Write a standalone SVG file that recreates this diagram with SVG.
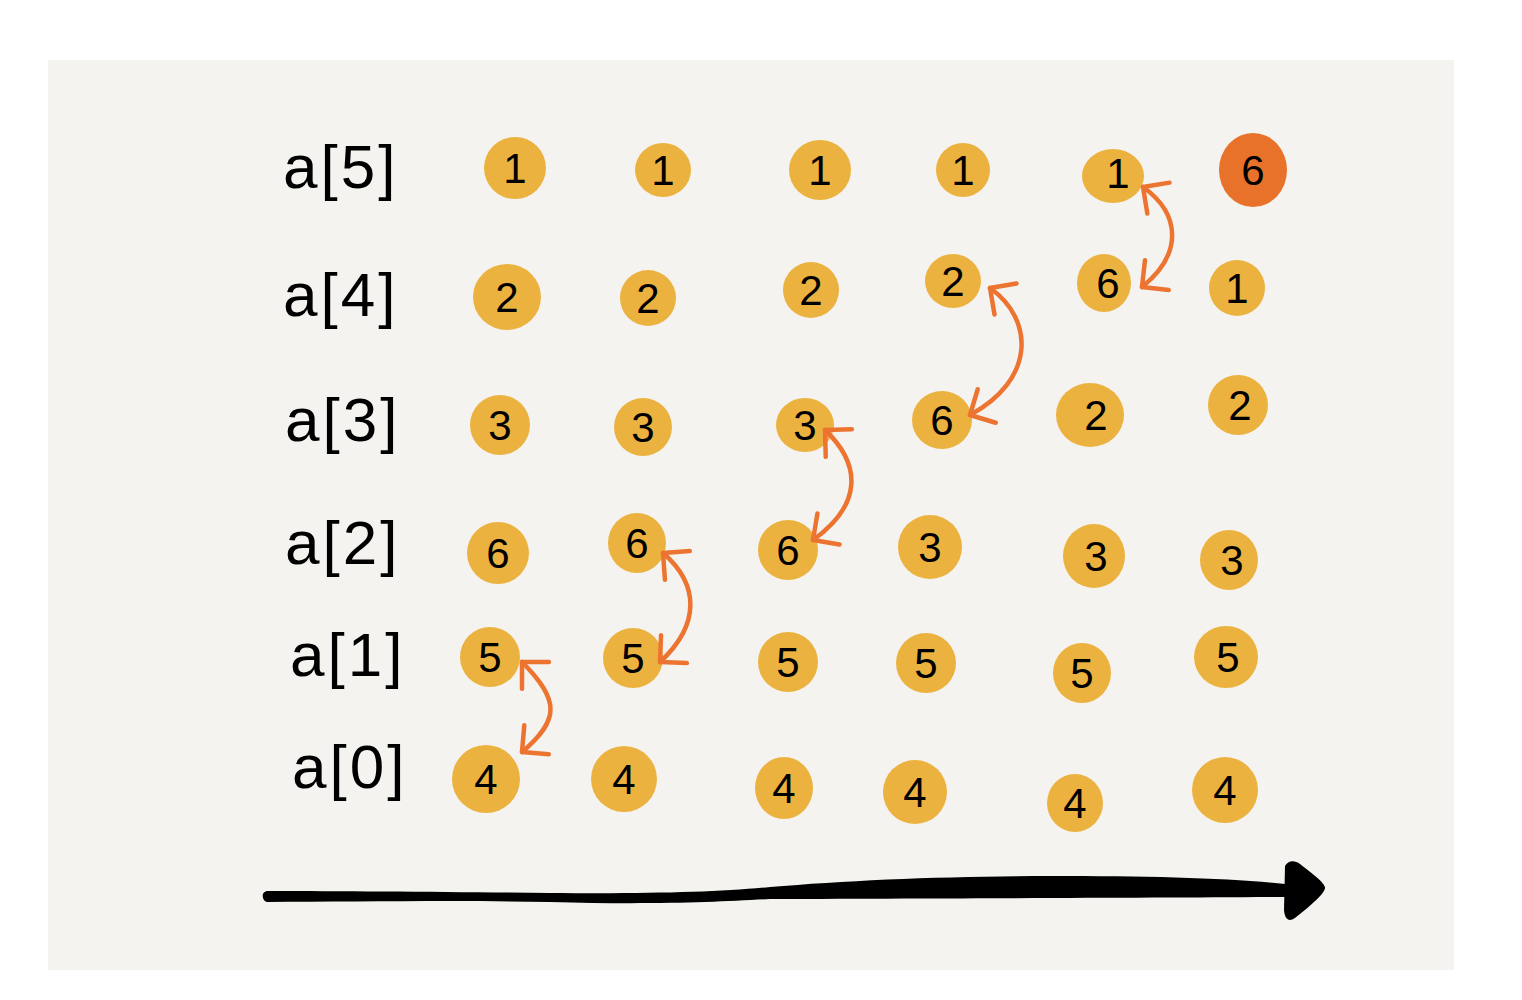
<svg xmlns="http://www.w3.org/2000/svg" width="1522" height="1000" viewBox="0 0 1522 1000">
<style>
.bg{fill:#f4f3ef}
.n{fill:#ecb23f}
.hot{fill:#e8722a}
.d{font-family:"Liberation Sans",Arial,sans-serif;font-size:42px;fill:#000;text-anchor:middle;dominant-baseline:central}
.lbl{font-family:"Liberation Sans",Arial,sans-serif;font-size:62px;fill:#000;letter-spacing:3px}
.sw{fill:none;stroke:#ec7430;stroke-width:4.5;stroke-linecap:round}
</style>
<defs>
<marker id="ah" markerUnits="userSpaceOnUse" markerWidth="50" markerHeight="50" viewBox="-25 -25 50 50" refX="0" refY="0" orient="auto-start-reverse" overflow="visible">
<path d="M-19,-19 L0,0 L-19,19" fill="none" stroke="#ec7430" stroke-width="4.5" stroke-linecap="round" stroke-linejoin="round"/>
</marker>
</defs>
<rect width="1522" height="1000" fill="#ffffff"/>
<rect class="bg" x="48" y="60" width="1406" height="910"/>

<g id="labels">
<text class="lbl" x="283" y="188">a[5]</text>
<text class="lbl" x="283" y="316">a[4]</text>
<text class="lbl" x="285" y="441">a[3]</text>
<text class="lbl" x="285" y="564">a[2]</text>
<text class="lbl" x="290" y="676">a[1]</text>
<text class="lbl" x="292" y="788">a[0]</text>
</g>

<g id="col1">
<g id="c1r5"><ellipse class="n" cx="515" cy="168" rx="31" ry="31"/><text class="d" x="515" y="168">1</text></g>
<g id="c1r4"><ellipse class="n" cx="507" cy="297" rx="34" ry="33"/><text class="d" x="507" y="297">2</text></g>
<g id="c1r3"><ellipse class="n" cx="500" cy="425" rx="30" ry="30"/><text class="d" x="500" y="425">3</text></g>
<g id="c1r2"><ellipse class="n" cx="498" cy="553" rx="31" ry="31"/><text class="d" x="498" y="553">6</text></g>
<g id="c1r1"><ellipse class="n" cx="490" cy="657" rx="30" ry="30"/><text class="d" x="490" y="657">5</text></g>
<g id="c1r0"><ellipse class="n" cx="486" cy="779" rx="34" ry="34"/><text class="d" x="486" y="779">4</text></g>
</g>
<g id="col2">
<g id="c2r5"><ellipse class="n" cx="663" cy="170" rx="28" ry="27"/><text class="d" x="663" y="170">1</text></g>
<g id="c2r4"><ellipse class="n" cx="648" cy="298" rx="28" ry="28"/><text class="d" x="648" y="298">2</text></g>
<g id="c2r3"><ellipse class="n" cx="643" cy="427" rx="29" ry="29"/><text class="d" x="643" y="427">3</text></g>
<g id="c2r2"><ellipse class="n" cx="637" cy="543" rx="29" ry="30"/><text class="d" x="637" y="543">6</text></g>
<g id="c2r1"><ellipse class="n" cx="633" cy="658" rx="30" ry="30"/><text class="d" x="633" y="658">5</text></g>
<g id="c2r0"><ellipse class="n" cx="624" cy="779" rx="33" ry="33"/><text class="d" x="624" y="779">4</text></g>
</g>
<g id="col3">
<g id="c3r5"><ellipse class="n" cx="820" cy="170" rx="31" ry="30"/><text class="d" x="820" y="170">1</text></g>
<g id="c3r4"><ellipse class="n" cx="811" cy="290" rx="28" ry="28"/><text class="d" x="811" y="290">2</text></g>
<g id="c3r3"><ellipse class="n" cx="805" cy="425" rx="29" ry="27"/><text class="d" x="805" y="425">3</text></g>
<g id="c3r2"><ellipse class="n" cx="788" cy="550" rx="30" ry="30"/><text class="d" x="788" y="550">6</text></g>
<g id="c3r1"><ellipse class="n" cx="788" cy="662" rx="30" ry="30"/><text class="d" x="788" y="662">5</text></g>
<g id="c3r0"><ellipse class="n" cx="784" cy="788" rx="29" ry="31"/><text class="d" x="784" y="788">4</text></g>
</g>
<g id="col4">
<g id="c4r5"><ellipse class="n" cx="963" cy="170" rx="27" ry="27"/><text class="d" x="963" y="170">1</text></g>
<g id="c4r4"><ellipse class="n" cx="953" cy="281" rx="28" ry="27"/><text class="d" x="953" y="281">2</text></g>
<g id="c4r3"><ellipse class="n" cx="942" cy="420" rx="30" ry="29"/><text class="d" x="942" y="420">6</text></g>
<g id="c4r2"><ellipse class="n" cx="930" cy="547" rx="32" ry="32"/><text class="d" x="930" y="547">3</text></g>
<g id="c4r1"><ellipse class="n" cx="926" cy="663" rx="30" ry="30"/><text class="d" x="926" y="663">5</text></g>
<g id="c4r0"><ellipse class="n" cx="915" cy="792" rx="32" ry="32"/><text class="d" x="915" y="792">4</text></g>
</g>
<g id="col5">
<g id="c5r5"><ellipse class="n" cx="1113" cy="176" rx="31" ry="27"/><text class="d" x="1118" y="173">1</text></g>
<g id="c5r4"><ellipse class="n" cx="1104" cy="283" rx="27" ry="29"/><text class="d" x="1108" y="283">6</text></g>
<g id="c5r3"><ellipse class="n" cx="1090" cy="415" rx="34" ry="32"/><text class="d" x="1096" y="415">2</text></g>
<g id="c5r2"><ellipse class="n" cx="1094" cy="556" rx="31" ry="32"/><text class="d" x="1096" y="556">3</text></g>
<g id="c5r1"><ellipse class="n" cx="1082" cy="673" rx="29" ry="30"/><text class="d" x="1082" y="673">5</text></g>
<g id="c5r0"><ellipse class="n" cx="1075" cy="803" rx="28" ry="29"/><text class="d" x="1075" y="803">4</text></g>
</g>
<g id="col6">
<g id="c6r5"><ellipse class="hot" cx="1253" cy="170" rx="34" ry="37"/><text class="d" x="1253" y="170">6</text></g>
<g id="c6r4"><ellipse class="n" cx="1237" cy="288" rx="28" ry="28"/><text class="d" x="1237" y="288">1</text></g>
<g id="c6r3"><ellipse class="n" cx="1238" cy="405" rx="30" ry="30"/><text class="d" x="1240" y="405">2</text></g>
<g id="c6r2"><ellipse class="n" cx="1229" cy="560" rx="29" ry="30"/><text class="d" x="1232" y="560">3</text></g>
<g id="c6r1"><ellipse class="n" cx="1226" cy="657" rx="32" ry="31"/><text class="d" x="1228" y="657">5</text></g>
<g id="c6r0"><ellipse class="n" cx="1225" cy="790" rx="33" ry="33"/><text class="d" x="1225" y="790">4</text></g>
</g>

<g id="connectors">
<path class="sw" d="M522,662 C560,700 560,720 522,752" marker-start="url(#ah)" marker-end="url(#ah)"/>
<path class="sw" d="M663,553 C700,585 700,625 660,662" marker-start="url(#ah)" marker-end="url(#ah)"/>
<path class="sw" d="M825,430 C862,465 862,505 813,540" marker-start="url(#ah)" marker-end="url(#ah)"/>
<path class="sw" d="M990,288 C1035,320 1035,380 970,415" marker-start="url(#ah)" marker-end="url(#ah)"/>
<path class="sw" d="M1143,187 C1182,215 1182,255 1142,287" marker-start="url(#ah)" marker-end="url(#ah)"/>
</g>

<g id="timeline">
<path fill="#000" d="M268,891 C350,891 450,892 550,893 C650,894 720,892 770,887 C850,880 950,876 1050,876 C1150,876 1230,878 1285,884 L1285,897 C1150,898 1000,898 770,899 C720,902 650,905 550,902 C450,900 350,902 268,902 C262,902 260,891 268,891 Z"/>
<path fill="#000" d="M1285,866 C1288,860 1295,860 1300,864 C1310,872 1322,880 1325,887 C1326,893 1310,906 1295,918 C1289,922 1285,920 1284,910 Z"/>
</g>
</svg>
